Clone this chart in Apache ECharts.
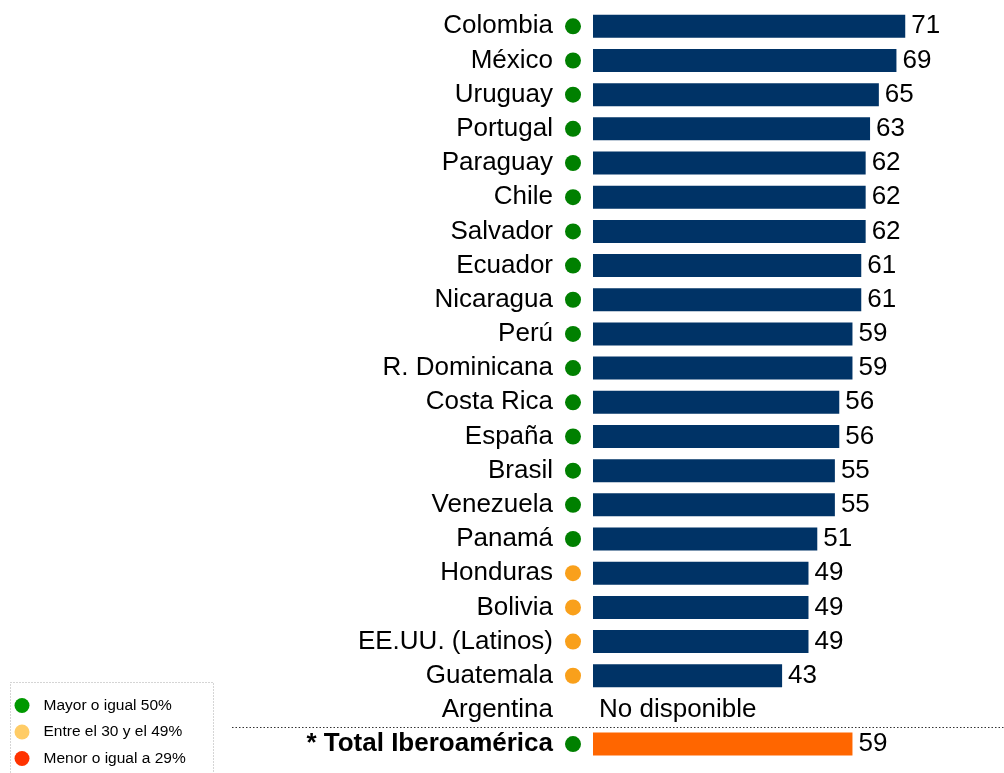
<!DOCTYPE html>
<html>
<head>
<meta charset="utf-8">
<script src="https://cdn.jsdelivr.net/npm/echarts@6/dist/echarts.min.js"></script>
<style>
html,body{margin:0;padding:0;background:#fff;}
#chart{width:1004px;height:773px;}
</style>
</head>
<body>
<div id="chart"></div>
<script>
const categories = ['Colombia','México','Uruguay','Portugal','Paraguay','Chile','Salvador','Ecuador','Nicaragua','Perú','R. Dominicana','Costa Rica','España','Brasil','Venezuela','Panamá','Honduras','Bolivia','EE.UU. (Latinos)','Guatemala','Argentina','* Total Iberoamérica'];
const values = [71,69,65,63,62,62,62,61,61,59,59,56,56,55,55,51,49,49,49,43,null,59];
const totalCategory = '* Total Iberoamérica';
const missingText = 'No disponible';
const legendLabels = ['Mayor o igual 50%','Entre el 30 y el 49%','Menor o igual a 29%'];
const legendColors = ['#009900','#FFCC66','#FF3300'];

const barColor = '#003366';
const totalColor = '#FF6600';
function dotKey(v){
  if (v === null || v === undefined) return null;
  if (v >= 50) return 'g';
  if (v >= 30) return 'o';
  return 'r';
}

const chart = echarts.init(document.getElementById('chart'), null, {renderer:'canvas'});

const barData = values.map((v, i) => {
  if (v === null) {
    return {value: 0, label: {formatter: missingText}};
  }
  return {
    value: v,
    itemStyle: {color: categories[i] === totalCategory ? totalColor : barColor}
  };
});

const dotStyle = (c) => ({width: 16, height: 16, borderRadius: 8, backgroundColor: c});

const option = {
  animation: false,
  backgroundColor: '#fff',
  grid: {left: 593, top: 9.2, height: 752, right: 24},
  xAxis: {
    type: 'value', min: 0, max: 88,
    show: false
  },
  yAxis: {
    type: 'category',
    data: categories,
    inverse: true,
    axisLine: {show: false, onZero: false},
    axisTick: {show: false},
    splitLine: {show: false},
    axisLabel: {
      margin: 12,
      fontFamily: 'Liberation Sans, Arial, sans-serif',
      formatter: function (name, idx) {
        const v = values[idx];
        const k = dotKey(v);
        const txt = name === totalCategory ? '{b|' + name + '}' : '{n|' + name + '}';
        if (!k) return txt + '{sp| }{e| }';
        return txt + '{sp| }{' + k + '| }';
      },
      rich: {
        n: {fontSize: 26, color: '#000', fontFamily: 'Liberation Sans, Arial, sans-serif'},
        b: {fontSize: 26, color: '#000', fontWeight: 'bold', fontFamily: 'Liberation Sans, Arial, sans-serif'},
        sp: {width: 12, fontSize: 10},
        e: {width: 16, height: 16},
        g: dotStyle('#008000'),
        o: dotStyle('#F9A01B'),
        r: dotStyle('#FF3300')
      }
    }
  },
  legend: {
    orient: 'vertical',
    left: 14.5,
    top: 697.5,
    padding: 0,
    height: 80,
    itemWidth: 15,
    itemHeight: 15,
    itemGap: 10.5,
    icon: 'circle',
    data: legendLabels,
    textStyle: {fontSize: 15.5, color: '#000', fontFamily: 'Liberation Sans, Arial, sans-serif', padding: [0,0,0,9]}
  },
  series: [
    {
      type: 'bar',
      data: barData,
      barWidth: 23,
      itemStyle: {color: barColor},
      label: {
        show: true,
        position: 'right',
        distance: 6,
        color: '#000',
        fontSize: 26,
        fontFamily: 'Liberation Sans, Arial, sans-serif'
      }
    }
  ].concat(legendLabels.map((l, i) => ({
    type: 'scatter', name: l, data: [], itemStyle: {color: legendColors[i], opacity: 1}
  }))),
  graphic: [
    {
      type: 'rect',
      shape: {x: 10.5, y: 682.5, width: 203, height: 100},
      style: {fill: 'none', stroke: '#aaaaaa', lineWidth: 1, lineDash: [1, 2]},
      silent: true
    },
    {
      type: 'line',
      shape: {x1: 232, y1: 727.5, x2: 1004, y2: 727.5},
      style: {stroke: '#333333', lineWidth: 1, lineDash: [1.5, 2]},
      silent: true
    }
  ]
};
chart.setOption(option);
</script>
</body>
</html>
